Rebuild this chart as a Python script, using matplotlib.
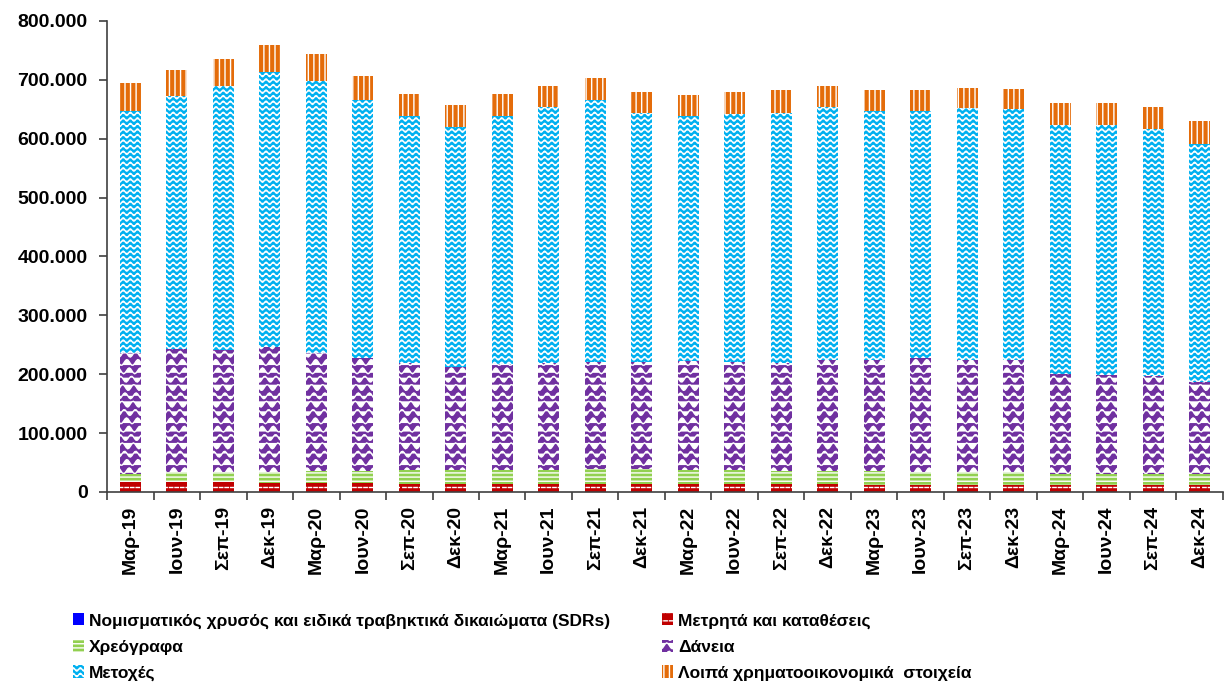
import numpy as np
import matplotlib
matplotlib.use("Agg")
import matplotlib.pyplot as plt
import matplotlib.hatch as mhatch
from matplotlib.path import Path
from matplotlib.ticker import FuncFormatter, FixedLocator

# quarters
labels = ["Μαρ-19", "Ιουν-19", "Σεπ-19", "Δεκ-19",
          "Μαρ-20", "Ιουν-20", "Σεπ-20", "Δεκ-20",
          "Μαρ-21", "Ιουν-21", "Σεπ-21", "Δεκ-21",
          "Μαρ-22", "Ιουν-22", "Σεπ-22", "Δεκ-22",
          "Μαρ-23", "Ιουν-23", "Σεπ-23", "Δεκ-23",
          "Μαρ-24", "Ιουν-24", "Σεπ-24", "Δεκ-24"]

# segment values (in thousands)
gold = [0.3] * 24
cash = [16.5, 16.5, 16.5, 15.0, 14.5, 14.5, 14.0, 14.0,
        14.0, 14.0, 14.0, 14.0, 14.0, 14.0, 14.0, 12.5,
        12.0, 12.0, 12.0, 12.0, 12.0, 12.0, 12.0, 12.0]
securities = [13.2, 17.2, 17.2, 18.7, 20.9, 20.9, 23.0, 23.0,
              23.0, 23.0, 24.0, 24.0, 23.0, 23.0, 22.0, 22.2,
              22.7, 22.2, 22.2, 22.2, 17.7, 17.7, 17.7, 17.7]
loans = [206.5, 209.0, 207.0, 211.7, 200.3, 191.3, 181.5, 174.7,
         179.8, 181.5, 183.0, 183.0, 186.0, 184.0, 182.5, 190.0,
         190.0, 192.5, 190.5, 190.5, 171.0, 168.6, 167.0, 157.0]
shares = [410.9, 428.8, 448.0, 467.9, 461.8, 438.0, 420.0, 407.3,
          421.6, 435.1, 444.0, 422.5, 415.4, 420.3, 424.5, 429.0,
          422.4, 420.4, 427.0, 424.7, 421.6, 424.0, 419.3, 403.3]
other = [46.5, 44.2, 46.0, 46.4, 46.2, 41.8, 37.6, 37.5,
         37.6, 35.4, 37.4, 35.1, 35.6, 37.3, 39.5, 35.3,
         35.1, 35.1, 35.0, 35.0, 37.8, 37.8, 37.7, 39.6]

names = ["Νομισματικός χρυσός και ειδικά τραβηκτικά δικαιώματα (SDRs)",
         "Μετρητά και καταθέσεις", "Χρεόγραφα", "Δάνεια", "Μετοχές",
         "Λοιπά χρηματοοικονομικά  στοιχεία"]


# wavy / dashed hatches, put in place of '*', 'O' and '.'
class CustomHatch(mhatch.HatchPatternBase):
    def __init__(self, hatch, density):
        self.waves = int(hatch.count('*') * density)
        self.curls = int(hatch.count('O') * density)
        self.dashes = int(hatch.count('.') * density)
        self.n_wave = 14 * 8 + 1
        self.n_curl = 9 * 8 + 1
        self.n_dash = 18
        self.num_vertices = (self.waves * self.n_wave + self.curls * self.n_curl
                             + self.dashes * self.n_dash * 2)

    def set_vertices_and_codes(self, vertices, codes):
        c = 0
        if self.waves:
            step = 1.0 / self.waves
            x = np.linspace(0, 1, self.n_wave)
            for k in range(self.waves):
                y = (k + 0.5) * step + 0.3 * step * np.sin(2 * np.pi * 14 * x)
                vertices[c:c + self.n_wave, 0] = x
                vertices[c:c + self.n_wave, 1] = y
                codes[c] = Path.MOVETO
                codes[c + 1:c + self.n_wave] = Path.LINETO
                c += self.n_wave
        if self.curls:
            step = 1.0 / self.curls
            x = np.linspace(0, 1, self.n_curl)
            for k in range(self.curls):
                y = (k + 0.5) * step + 0.35 * step * np.sin(2 * np.pi * 9 * x + k * 1.3)
                vertices[c:c + self.n_curl, 0] = x
                vertices[c:c + self.n_curl, 1] = y
                codes[c] = Path.MOVETO
                codes[c + 1:c + self.n_curl] = Path.LINETO
                c += self.n_curl
        if self.dashes:
            step = 1.0 / self.dashes
            seg = 1.0 / self.n_dash
            for k in range(self.dashes):
                y = (k + 0.5) * step
                shift = 0.5 * seg * (k % 2)
                for j in range(self.n_dash):
                    x0 = j * seg + shift
                    vertices[c] = (x0, y)
                    vertices[c + 1] = (min(x0 + seg * 0.6, 1.0), y)
                    codes[c] = Path.MOVETO
                    codes[c + 1] = Path.LINETO
                    c += 2


mhatch._hatch_types = [h for h in mhatch._hatch_types
                       if h not in (mhatch.Stars, mhatch.LargeCircles,
                                    mhatch.SmallFilledCircles)] + [CustomHatch]

plt.rcParams['font.family'] = ['Liberation Sans', 'DejaVu Sans']
plt.rcParams['font.weight'] = 'bold'
plt.rcParams['hatch.linewidth'] = 1.0

colors = ["#0000FF", "#C00000", "#92D050", "#7030A0", "#00B0F0", "#E46C0A"]
hatches = [None, "..", "----", "OO", "***", "|||"]
series = [gold, cash, securities, loans, shares, other]

fig = plt.figure(figsize=(12.24, 6.86), dpi=100)
ax = fig.add_axes([0.0875, 0.2828, 0.9115, 0.6866])

x = np.arange(len(labels))
bottom = np.zeros(len(labels))
handles = []
for vals, col, hat, name in zip(series, colors, hatches, names):
    vals = np.array(vals) * 1000
    b = ax.bar(x, vals, 0.45, bottom=bottom, color=col, hatch=hat,
               edgecolor="white", linewidth=0, label=name)
    handles.append(b)
    bottom += vals

ax.set_xlim(-0.5, len(labels) - 0.5)
ax.set_ylim(0, 800000)
ax.yaxis.set_major_locator(FixedLocator(np.arange(0, 800001, 100000)))
ax.yaxis.set_major_formatter(FuncFormatter(lambda v, p: f"{v:,.0f}".replace(",", ".")))
ax.set_xticks(x)
ax.set_xticklabels(labels, rotation=90)
ax.set_xticks(np.arange(-0.5, len(labels), 1), minor=True)
ax.tick_params(axis="x", which="major", length=0, pad=10, labelsize=14)
ax.tick_params(axis="x", which="minor", length=6, width=1.2, color="#404040")
ax.tick_params(axis="y", length=6, width=1.2, color="#404040", pad=8, labelsize=14)

for s in ["top", "right"]:
    ax.spines[s].set_visible(False)
for s in ["left", "bottom"]:
    ax.spines[s].set_color("#404040")
    ax.spines[s].set_linewidth(1.2)

# legend order: column by column
order = [0, 2, 4, 1, 3, 5]
fig.legend([handles[i] for i in order], [names[i] for i in order],
           loc="upper left", bbox_to_anchor=(0.06, 0.106), ncol=2,
           frameon=False, fontsize=12.5, handlelength=0.6, handleheight=0.7,
           handletextpad=0.3, labelspacing=0.62, columnspacing=3.0,
           borderaxespad=0, borderpad=0)

fig.savefig("out.png", dpi=100)
